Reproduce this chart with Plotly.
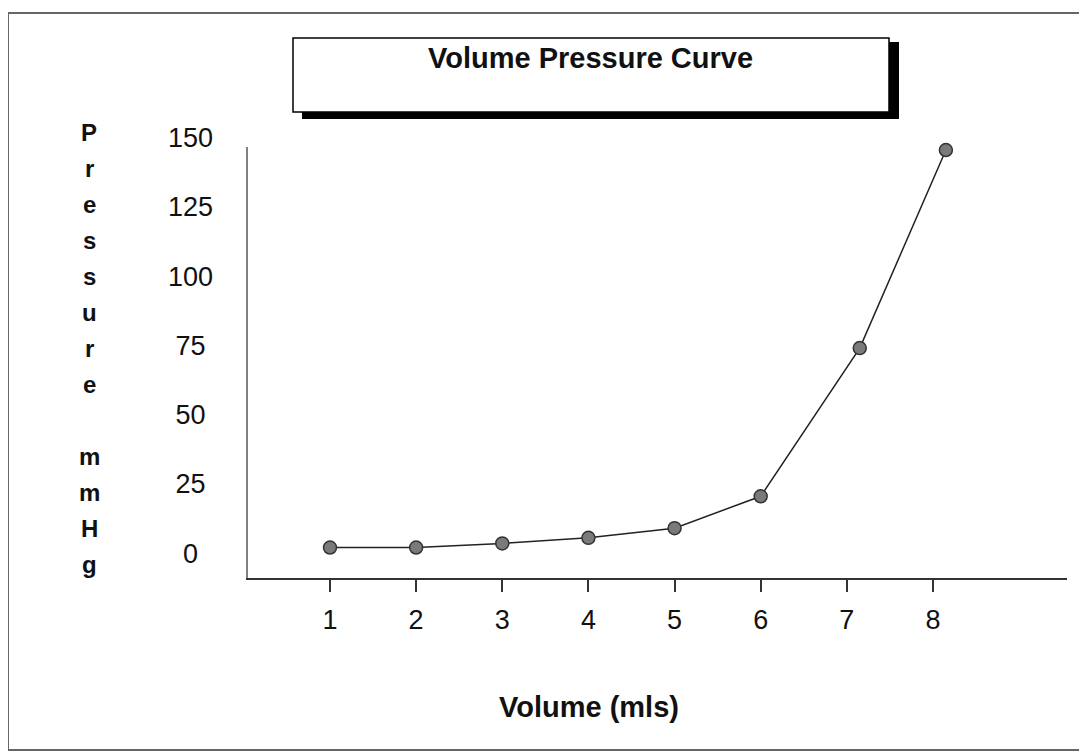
import plotly.graph_objects as go

# ---- data ----
volume = [1, 2, 3, 4, 5, 6, 7.15, 8.15]
pressure = [2, 2, 3.5, 5.5, 9, 20.5, 74, 145.5]
x_tick_vals = [1, 2, 3, 4, 5, 6, 7, 8]
x_tick_labels = ["1", "2", "3", "4", "5", "6", "7", "8"]
y_tick_vals = [0, 25, 50, 75, 100, 125, 150]
y_tick_labels = ["0", "25", "50", "75", "100", "125", "150"]
chart_title = "Volume Pressure Curve"
x_title = "Volume (mls)"
y_title_rows = ["P", "r", "e", "s", "s", "u", "r", "e", "", "m", "m", "H", "g"]

FONT = "Liberation Sans, Arial, sans-serif"
OFF = 8  # page body margin
W, H = 1087 - OFF, 756 - OFF
L, T = 248 - OFF, 130 - OFF
R = W - (1067 - OFF)
B = H - (578 - OFF)
PW, PH = W - L - R, H - T - B


def px(x):
    return (x - OFF - L) / PW


def py(y):
    return (H - B - (y - OFF)) / PH


y_bottom = -9.0
y_scale = 2.77  # px per unit
axis_top_px = 147
y_line_top = y_bottom + (578 - axis_top_px) / y_scale
y_label_top = y_bottom + PH / y_scale

# centre the y labels in a 3-digit column (pad with figure/punctuation spaces)
pad = {1: "\u2007", 2: "\u2008", 3: ""}
y_tick_text = [t + pad[len(t)] for t in y_tick_labels]

fig = go.Figure()
fig.add_trace(go.Scatter(
    x=volume, y=pressure, mode="lines+markers",
    line=dict(color="#222222", width=1.5),
    marker=dict(size=13, color="#7a7a7a", line=dict(color="#333333", width=1.5)),
    cliponaxis=False, showlegend=False, hoverinfo="x+y",
))
# empty trace so the label axis is drawn
fig.add_trace(go.Scatter(x=[None], y=[None], yaxis="y2", showlegend=False,
                         hoverinfo="skip"))

shapes = [
    dict(type="rect", xref="paper", yref="paper",
         x0=px(8), x1=px(1084), y0=py(750), y1=py(13),
         line=dict(color="#666666", width=2), fillcolor="rgba(0,0,0,0)"),
    dict(type="rect", xref="paper", yref="paper",
         x0=px(302), x1=px(899), y0=py(119), y1=py(42),
         line=dict(width=0), fillcolor="black"),
    dict(type="rect", xref="paper", yref="paper",
         x0=px(293), x1=px(889), y0=py(112), y1=py(38),
         line=dict(color="black", width=1.5), fillcolor="white"),
]

annotations = [
    dict(text="<b>%s</b>" % chart_title, xref="paper", yref="paper",
         x=px(590), y=py(58), xanchor="center", yanchor="middle",
         showarrow=False, font=dict(family=FONT, size=29, color="#111111")),
    dict(text="<b>%s</b>" % x_title, xref="paper", yref="paper",
         x=px(589), y=py(707), xanchor="center", yanchor="middle",
         showarrow=False, font=dict(family=FONT, size=29, color="#111111")),
]
for i, ch in enumerate(y_title_rows):
    if not ch:
        continue
    annotations.append(dict(
        text="<b>%s</b>" % ch, xref="paper", yref="paper",
        x=px(89), y=py(132 + 36 * i), xanchor="center", yanchor="middle",
        showarrow=False, font=dict(family=FONT, size=24, color="#111111")))

fig.update_layout(
    width=W, height=H,
    margin=dict(l=L, r=R, t=T, b=B, pad=0),
    paper_bgcolor="white", plot_bgcolor="rgba(0,0,0,0)",
    font=dict(family=FONT, color="#111111"),
    shapes=shapes, annotations=annotations,
    xaxis=dict(
        range=[0.048, 9.556], tickvals=x_tick_vals, ticktext=x_tick_labels,
        showline=True, linecolor="#333333", linewidth=1.5,
        ticks="outside", ticklen=12, tickwidth=1.5, tickcolor="#333333",
        tickfont=dict(family=FONT, size=27, color="#111111"),
        ticklabelstandoff=5,
        showgrid=False, zeroline=False,
    ),
    yaxis=dict(
        range=[y_bottom, y_line_top], domain=[0, (578 - axis_top_px) / PH],
        showline=True, linecolor="#808080", linewidth=2,
        ticks="", showticklabels=False, showgrid=False, zeroline=False,
    ),
    yaxis2=dict(
        range=[y_bottom, y_label_top], domain=[0, 1], anchor="x",
        showline=False, ticks="", tickvals=y_tick_vals, ticktext=y_tick_text,
        tickfont=dict(family=FONT, size=27, color="#111111"),
        ticklabelstandoff=34, showgrid=False, zeroline=False,
    ),
)

fig.write_html("out.html")
